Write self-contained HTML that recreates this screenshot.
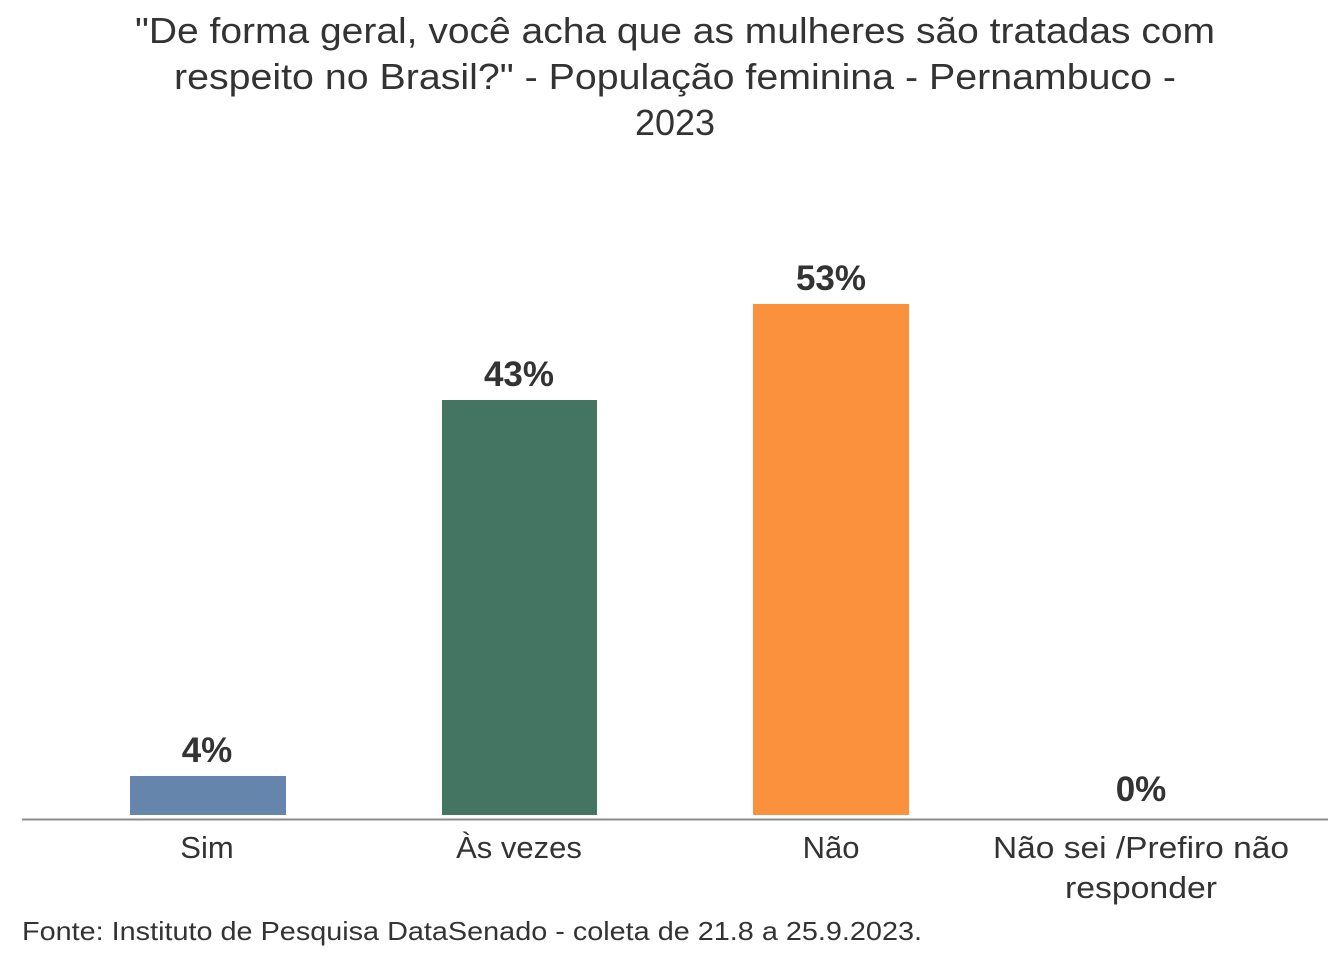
<!DOCTYPE html>
<html><head><meta charset="utf-8"><style>
body{margin:0;width:1344px;height:960px;background:#fff;overflow:hidden;font-family:"Liberation Sans",sans-serif;color:#333}
</style></head><body>
<svg width="1344" height="960" xmlns="http://www.w3.org/2000/svg" font-family="Liberation Sans, sans-serif">
<g fill="#333" font-size="36" text-anchor="middle">
<text x="675" y="43" textLength="1080" lengthAdjust="spacingAndGlyphs">"De forma geral, você acha que as mulheres são tratadas com</text>
<text x="675" y="89" textLength="1002" lengthAdjust="spacingAndGlyphs">respeito no Brasil?" - População feminina - Pernambuco -</text>
<text x="675" y="135">2023</text>
</g>
<rect x="130" y="776" width="156" height="39" fill="#6585ad"/>
<rect x="442" y="400" width="155" height="415" fill="#447563"/>
<rect x="753" y="304" width="156" height="511" fill="#fc913d"/>
<line x1="22" y1="819.5" x2="1328" y2="819.5" stroke="#8c8c8c" stroke-width="2"/>
<g fill="#333" font-size="35" font-weight="bold" text-anchor="middle">
<text x="207" y="762">4%</text>
<text x="519" y="386">43%</text>
<text x="831" y="290">53%</text>
<text x="1141" y="801">0%</text>
</g>
<g fill="#333" font-size="31" text-anchor="middle">
<text x="207" y="858">Sim</text>
<text x="519" y="858">Às vezes</text>
<text x="831" y="858">Não</text>
<text x="1141" y="858" textLength="296" lengthAdjust="spacingAndGlyphs">Não sei /Prefiro não</text>
<text x="1141" y="898" textLength="152" lengthAdjust="spacingAndGlyphs">responder</text>
</g>
<text x="22" y="940" fill="#333" font-size="26" textLength="900" lengthAdjust="spacingAndGlyphs">Fonte: Instituto de Pesquisa DataSenado - coleta de 21.8 a 25.9.2023.</text>
</svg>
</body></html>
